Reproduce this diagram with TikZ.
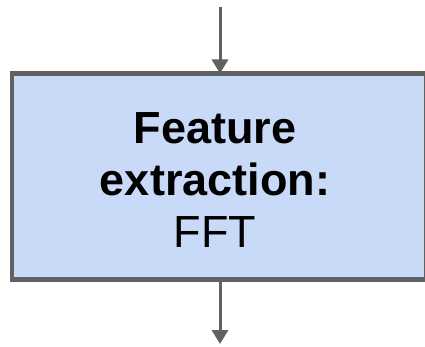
\documentclass[tikz,border=0pt]{standalone}
\usepackage{fontspec}
\setmainfont{Liberation Sans}
\usetikzlibrary{arrows.meta}
\definecolor{boxfill}{HTML}{C9DAF8}
\definecolor{edgegray}{HTML}{5F6163}
\begin{document}
\begin{tikzpicture}[x=1pt,y=-1pt,
  procbox/.style={draw=edgegray, line width=4.5pt, fill=boxfill, rectangle,
    minimum width=414pt, minimum height=206pt, inner sep=0pt, outer sep=0pt},
  boxtext/.style={align=center, inner sep=0pt, font=\fontsize{45}{52}\selectfont},
  flow/.style={draw=edgegray, line width=3pt, -{Triangle[width=16pt,length=14pt]}}]
\useasboundingbox (0,0) rectangle (425,347);
\begin{scope}
\clip (0,0) rectangle (425,347);
\node[procbox] (box) at (219,176.5) {};
\end{scope}
\node[boxtext] (label) at (215,180) {\textbf{Feature}\\\textbf{extraction:}\\FFT};
\coordinate (in) at (220,7);
\coordinate (out) at (220,344);
\draw[flow] (in) -- (in |- box.north);
\draw[flow] (out |- box.south) -- (out);
\end{tikzpicture}
\end{document}
